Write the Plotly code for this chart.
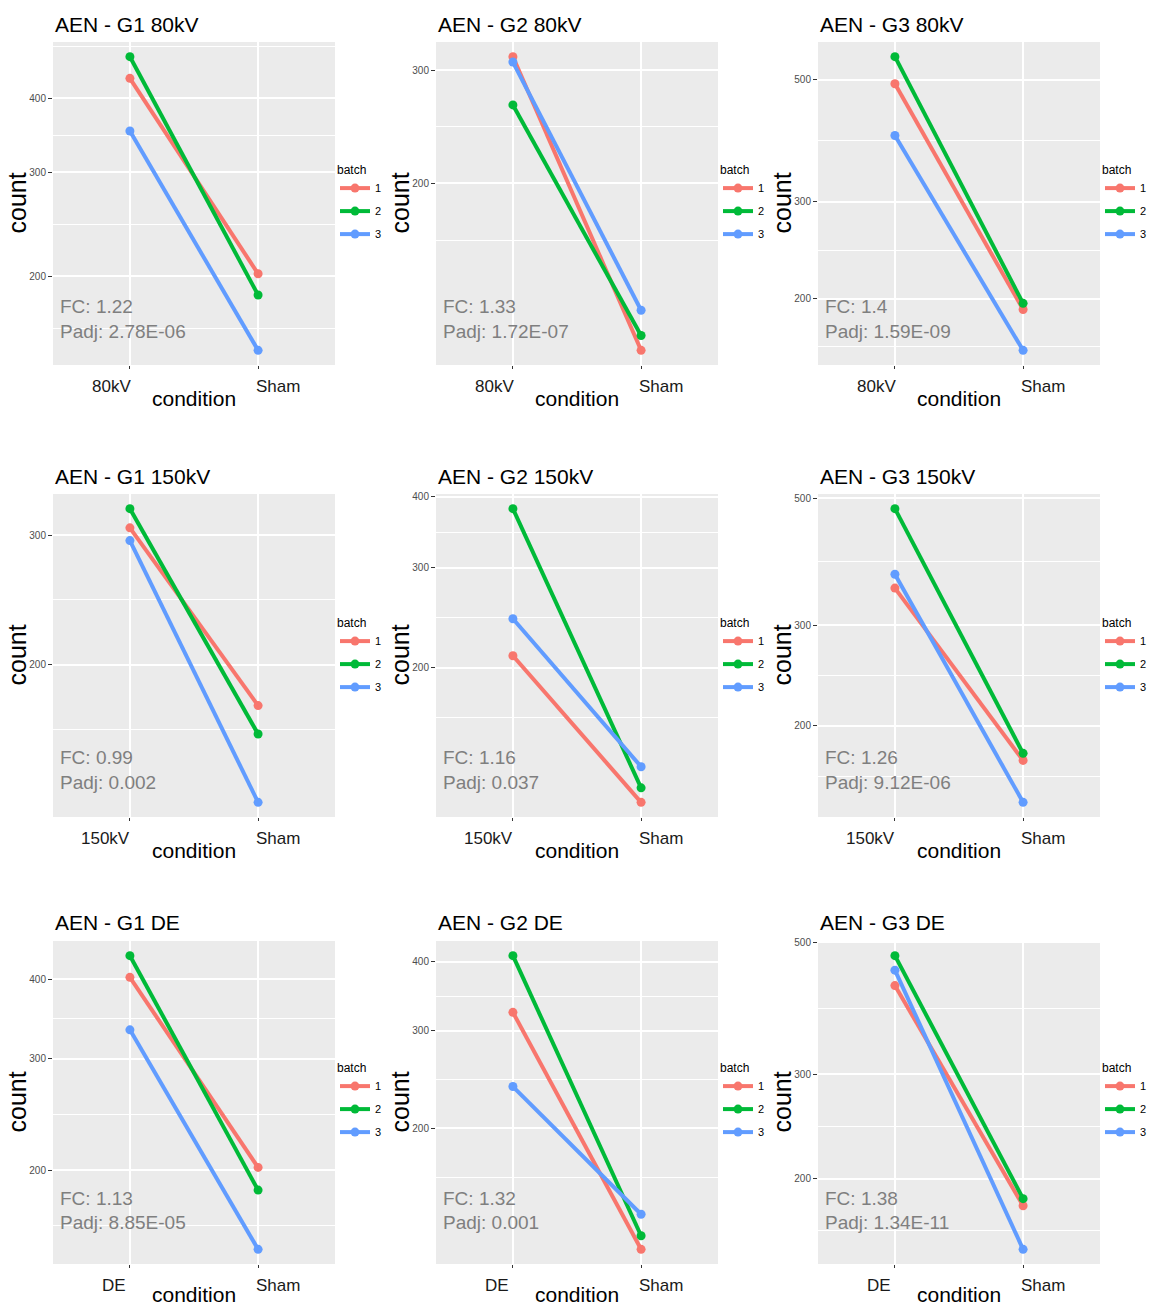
import numpy as np
import plotly.graph_objects as go

# ---------------- data ----------------
genotypes = ["G1", "G2", "G3"]
treatments = ["80kV", "150kV", "DE"]
batches = ["1", "2", "3"]
control = "Sham"

# counts per batch (1, 2, 3): treated condition and Sham
g1_80kV_treated = [432, 470, 352]
g1_80kV_sham = [202, 186, 150]
g2_80kV_treated = [315, 265, 309]
g2_80kV_sham = [110, 116, 127]
g3_80kV_treated = [492, 551, 396]
g3_80kV_sham = [191, 196, 161]

g1_150kV_treated = [307, 326, 295]
g1_150kV_sham = [176, 161, 130]
g2_150kV_treated = [210, 381, 244]
g2_150kV_sham = [116, 123, 134]
g3_150kV_treated = [348, 479, 368]
g3_150kV_sham = [174, 179, 147]

g1_DE_treated = [403, 436, 333]
g1_DE_sham = [202, 186, 150]
g2_DE_treated = [324, 410, 238]
g2_DE_sham = [121, 128, 140]
g3_DE_treated = [423, 475, 449]
g3_DE_sham = [180, 185, 152]

fc_labels = ["FC: 1.22", "FC: 1.33", "FC: 1.4",
             "FC: 0.99", "FC: 1.16", "FC: 1.26",
             "FC: 1.13", "FC: 1.32", "FC: 1.38"]
padj_labels = ["Padj: 2.78E-06", "Padj: 1.72E-07", "Padj: 1.59E-09",
               "Padj: 0.002", "Padj: 0.037", "Padj: 9.12E-06",
               "Padj: 8.85E-05", "Padj: 0.001", "Padj: 1.34E-11"]

y_tick_values = [[200, 300, 400], [200, 300], [200, 300, 500],
                 [200, 300], [200, 300, 400], [200, 300, 500],
                 [200, 300, 400], [200, 300, 400], [200, 300, 500]]

panel_data = [
    (g1_80kV_treated, g1_80kV_sham), (g2_80kV_treated, g2_80kV_sham), (g3_80kV_treated, g3_80kV_sham),
    (g1_150kV_treated, g1_150kV_sham), (g2_150kV_treated, g2_150kV_sham), (g3_150kV_treated, g3_150kV_sham),
    (g1_DE_treated, g1_DE_sham), (g2_DE_treated, g2_DE_sham), (g3_DE_treated, g3_DE_sham),
]

# ---------------- styling / layout ----------------
OFF = 8                      # page body margin of the html page
W, H = 1157 - OFF, 1307 - OFF
FONT = "Liberation Sans, Arial, Helvetica, sans-serif"
colors = ["#F8766D", "#00BA38", "#619CFF"]
# pixel positions in page coordinates
col_x = [(53, 335), (436, 718), (818, 1100)]
row_y = [(42, 365), (494, 817), (941, 1264)]
title_cy = [24, 476, 922]
legend_x = [335, 718, 1100]
legend_top = [158, 611, 1056]
ann_offsets = [(59, 34), (60, 35), (66, 42)]  # px above panel bottom (FC, Padj)
xtitle_below = [33, 33, 30]                    # px below panel bottom
ytitle_left = 53                               # px left of panel (box edge)
tick_shift = {"80kV": -18, "150kV": -24, "DE": -16, "Sham": 20}


def px(xp):
    return (xp - OFF) / W


def py(yp):
    return 1 - (yp - OFF) / H


def minor_breaks(major, lo, hi):
    b = list(np.log10(major))
    bd = b[1] - b[0]
    if lo < b[0]:
        b = [b[0] - bd] + b
    if hi > b[-1]:
        b = b + [b[-1] + bd]
    mids = [(b[i] + b[i + 1]) / 2 for i in range(len(b) - 1)]
    return [10 ** m for m in mids if lo <= m <= hi]


fig = go.Figure()
annotations = []
layout_upd = {}

for r in range(3):
    for c in range(3):
        k = r * 3 + c
        ax = k + 1
        xs = "" if ax == 1 else str(ax)
        cond = treatments[r]
        treated, sham = panel_data[k]
        leg = "legend" if k == 0 else f"legend{ax}"
        for b in range(3):
            fig.add_trace(go.Scatter(
                x=[cond, control], y=[treated[b], sham[b]],
                mode="lines+markers",
                line=dict(color=colors[b], width=4),
                marker=dict(color=colors[b], size=9),
                name=batches[b], legend=leg, legendgroup=f"g{k}_{b}",
                xaxis=f"x{xs}", yaxis=f"y{xs}", showlegend=True,
                hoverinfo="x+y+name",
            ))

        x0, x1 = col_x[c]
        y0, y1 = row_y[r]
        ph = y1 - y0
        pw = x1 - x0
        vals = np.log10(list(treated) + list(sham))
        lo, hi = vals.min(), vals.max()
        span = hi - lo
        lo, hi = lo - 0.05 * span, hi + 0.05 * span
        ticks = y_tick_values[k]

        layout_upd[f"xaxis{xs}"] = dict(
            domain=[px(x0), px(x1)], anchor=f"y{xs}",
            type="category", categoryorder="array", categoryarray=[cond, control],
            range=[-0.6, 1.6],
            showgrid=True, gridcolor="white", gridwidth=2,
            ticks="outside", ticklen=3, tickcolor="#333333", tickwidth=1,
            showticklabels=False, automargin=False,
            zeroline=False, showline=False,
        )
        layout_upd[f"yaxis{xs}"] = dict(
            domain=[py(y1), py(y0)], anchor=f"x{xs}",
            type="log", range=[lo, hi],
            tickmode="array", tickvals=ticks, ticktext=[str(t) for t in ticks],
            showgrid=True, gridcolor="white", gridwidth=2,
            minor=dict(tickmode="array", tickvals=minor_breaks(ticks, lo, hi),
                       showgrid=True, gridcolor="white", gridwidth=1, ticks=""),
            ticks="outside", ticklen=4, tickcolor="#333333", tickwidth=1,
            tickfont=dict(family=FONT, size=10, color="#4D4D4D"),
            automargin=False, zeroline=False, showline=False,
        )
        layout_upd[leg] = dict(
            x=px(legend_x[c]), y=py(legend_top[r]), xanchor="left", yanchor="top",
            title=dict(text="batch", font=dict(family=FONT, size=12, color="black")),
            font=dict(family=FONT, size=11, color="black"),
            bgcolor="rgba(0,0,0,0)", itemwidth=30, tracegroupgap=4,
        )
        # x tick labels (categories), offset as in the reference
        for cat in (cond, control):
            annotations.append(dict(
                text=cat, xref=f"x{xs}", yref=f"y{xs} domain",
                x=cat, y=-21 / ph, xanchor="center", yanchor="middle",
                xshift=tick_shift[cat], showarrow=False,
                font=dict(family=FONT, size=17, color="#1A1A1A"),
            ))
        # axis titles
        annotations.append(dict(
            text="condition", xref=f"x{xs} domain", yref=f"y{xs} domain",
            x=0.5, y=-xtitle_below[r] / ph, xanchor="center", yanchor="middle",
            showarrow=False, font=dict(family=FONT, size=21, color="black"),
        ))
        annotations.append(dict(
            text="count", xref=f"x{xs} domain", yref=f"y{xs} domain",
            x=-ytitle_left / pw, y=0.5, xanchor="left", yanchor="middle", textangle=-90,
            showarrow=False, font=dict(family=FONT, size=25, color="black"),
        ))
        # panel title
        annotations.append(dict(
            text=f"AEN - {genotypes[c]} {cond}", xref="paper", yref="paper",
            x=px(x0), y=py(title_cy[r]), xanchor="left", yanchor="middle",
            showarrow=False, font=dict(family=FONT, size=21, color="black"),
        ))
        fo, po = ann_offsets[r]
        for txt, off in ((fc_labels[k], fo), (padj_labels[k], po)):
            annotations.append(dict(
                text=txt, xref=f"x{xs} domain", yref=f"y{xs} domain",
                x=5 / pw, y=off / ph, xanchor="left", yanchor="middle",
                showarrow=False, font=dict(family=FONT, size=19, color="#7F7F7F"),
            ))

fig.update_layout(**layout_upd)
fig.update_layout(
    width=W, height=H, margin=dict(l=0, r=0, t=0, b=0, autoexpand=False),
    paper_bgcolor="white", plot_bgcolor="#EBEBEB",
    annotations=annotations, font=dict(family=FONT),
)
fig.write_html("out.html")
